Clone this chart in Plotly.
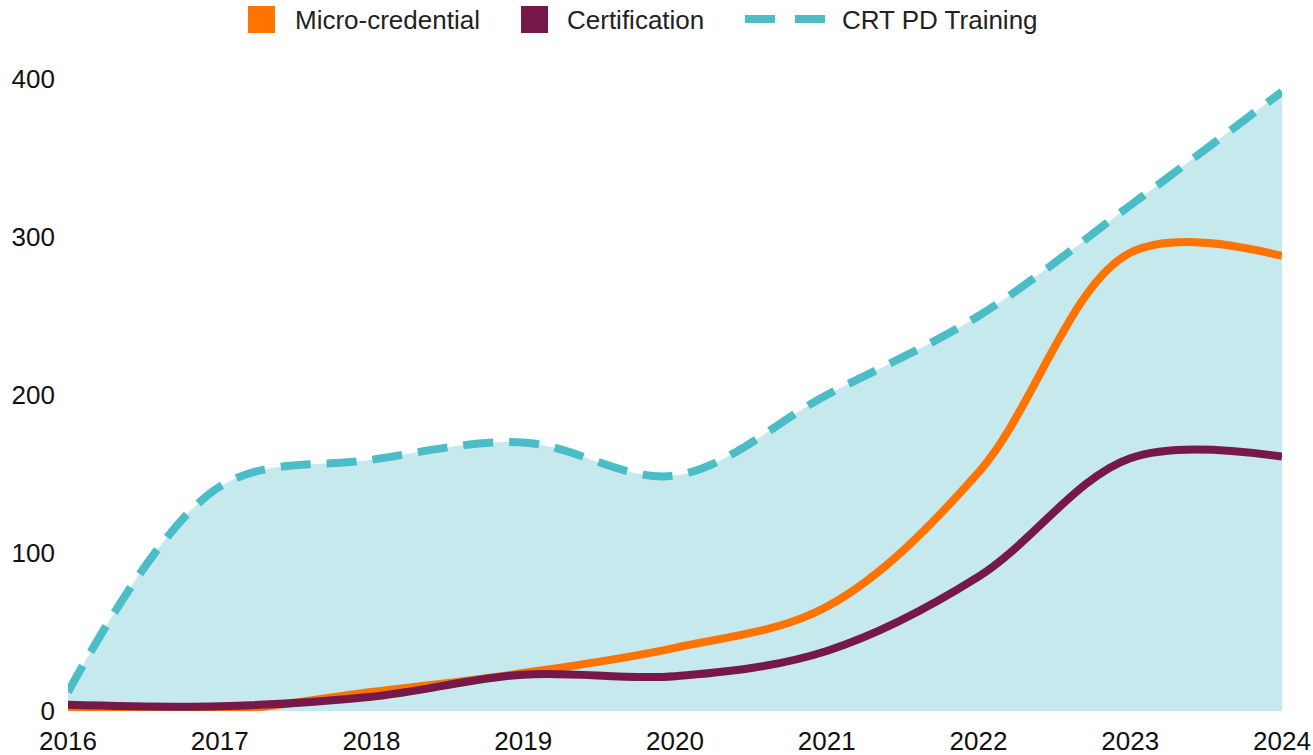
import plotly.graph_objects as go

years = [2016, 2017, 2018, 2019, 2020, 2021, 2022, 2023, 2024]
micro_credential = [0, 0, 12, 24, 40, 66, 151, 290, 288]
certification = [4, 3, 9, 23, 22, 38, 85, 160, 161]
crt_pd_training = [12, 142, 159, 170, 149, 200, 250, 320, 392]
y_ticks = [0, 100, 200, 300, 400]

C_ORANGE = "#FF7300"
C_MAROON = "#76184A"
C_TEAL = "#4ABDC6"
C_FILL = "#C5E9EC"
FONT = "Liberation Sans, Arial, sans-serif"
FS = 26

fig = go.Figure()
fig.add_trace(go.Scatter(
    x=years, y=crt_pd_training, name="CRT PD Training", mode="lines",
    line=dict(color=C_TEAL, width=8, dash="30px,16px", shape="spline", smoothing=1),
    fill="tozeroy", fillcolor=C_FILL, showlegend=False, cliponaxis=False))
fig.add_trace(go.Scatter(
    x=years, y=micro_credential, name="Micro-credential", mode="lines",
    line=dict(color=C_ORANGE, width=8, shape="spline", smoothing=1),
    showlegend=False, cliponaxis=False))
fig.add_trace(go.Scatter(
    x=years, y=certification, name="Certification", mode="lines",
    line=dict(color=C_MAROON, width=8, shape="spline", smoothing=1),
    showlegend=False, cliponaxis=False))

W, H = 1313, 755
L, R, T, B = 68, 31, 79, 44
pw, ph = W - L - R, H - T - B

def px(x):
    return (x - L) / pw

def py(y):
    return (H - B - y) / ph

shapes = []
annotations = []
legend_items = [
    ("Micro-credential", C_ORANGE, "square", 248, 293),
    ("Certification", C_MAROON, "square", 521, 565),
    ("CRT PD Training", C_TEAL, "dash", 745, 840),
]
for label, col, kind, x0, tx in legend_items:
    if kind == "square":
        shapes.append(dict(type="rect", xref="paper", yref="paper",
                           x0=px(x0), x1=px(x0 + 27), y0=py(33), y1=py(6),
                           fillcolor=col, line=dict(width=0), layer="above"))
    else:
        for d0 in (x0, x0 + 50):
            shapes.append(dict(type="line", xref="paper", yref="paper",
                               x0=px(d0), x1=px(d0 + 30), y0=py(19), y1=py(19),
                               line=dict(color=col, width=8), layer="above"))
    annotations.append(dict(text=label, xref="paper", yref="paper",
                            x=px(tx), y=py(20), xanchor="left", yanchor="middle",
                            showarrow=False, font=dict(size=FS, color="#222222", family=FONT)))

fig.update_layout(
    template="none",
    width=W, height=H, autosize=False,
    margin=dict(l=L, r=R, t=T, b=B, pad=0),
    paper_bgcolor="white", plot_bgcolor="white",
    font=dict(family=FONT, size=FS, color="#111111"),
    showlegend=False,
    shapes=shapes, annotations=annotations,
    xaxis=dict(range=[2016, 2024], tickvals=years, ticktext=[str(y) for y in years],
               showgrid=False, zeroline=False, showline=False, ticks="",
               tickfont=dict(size=FS), ticklabelstandoff=12, automargin=False),
    yaxis=dict(range=[0, 400], tickvals=y_ticks, showgrid=False, zeroline=False,
               showline=False, ticks="", tickfont=dict(size=FS), ticklabelstandoff=12,
               automargin=False),
)

fig.write_html("out.html", config={"displayModeBar": False},
               post_script="document.body.style.margin='0';document.body.style.overflow='hidden';")
